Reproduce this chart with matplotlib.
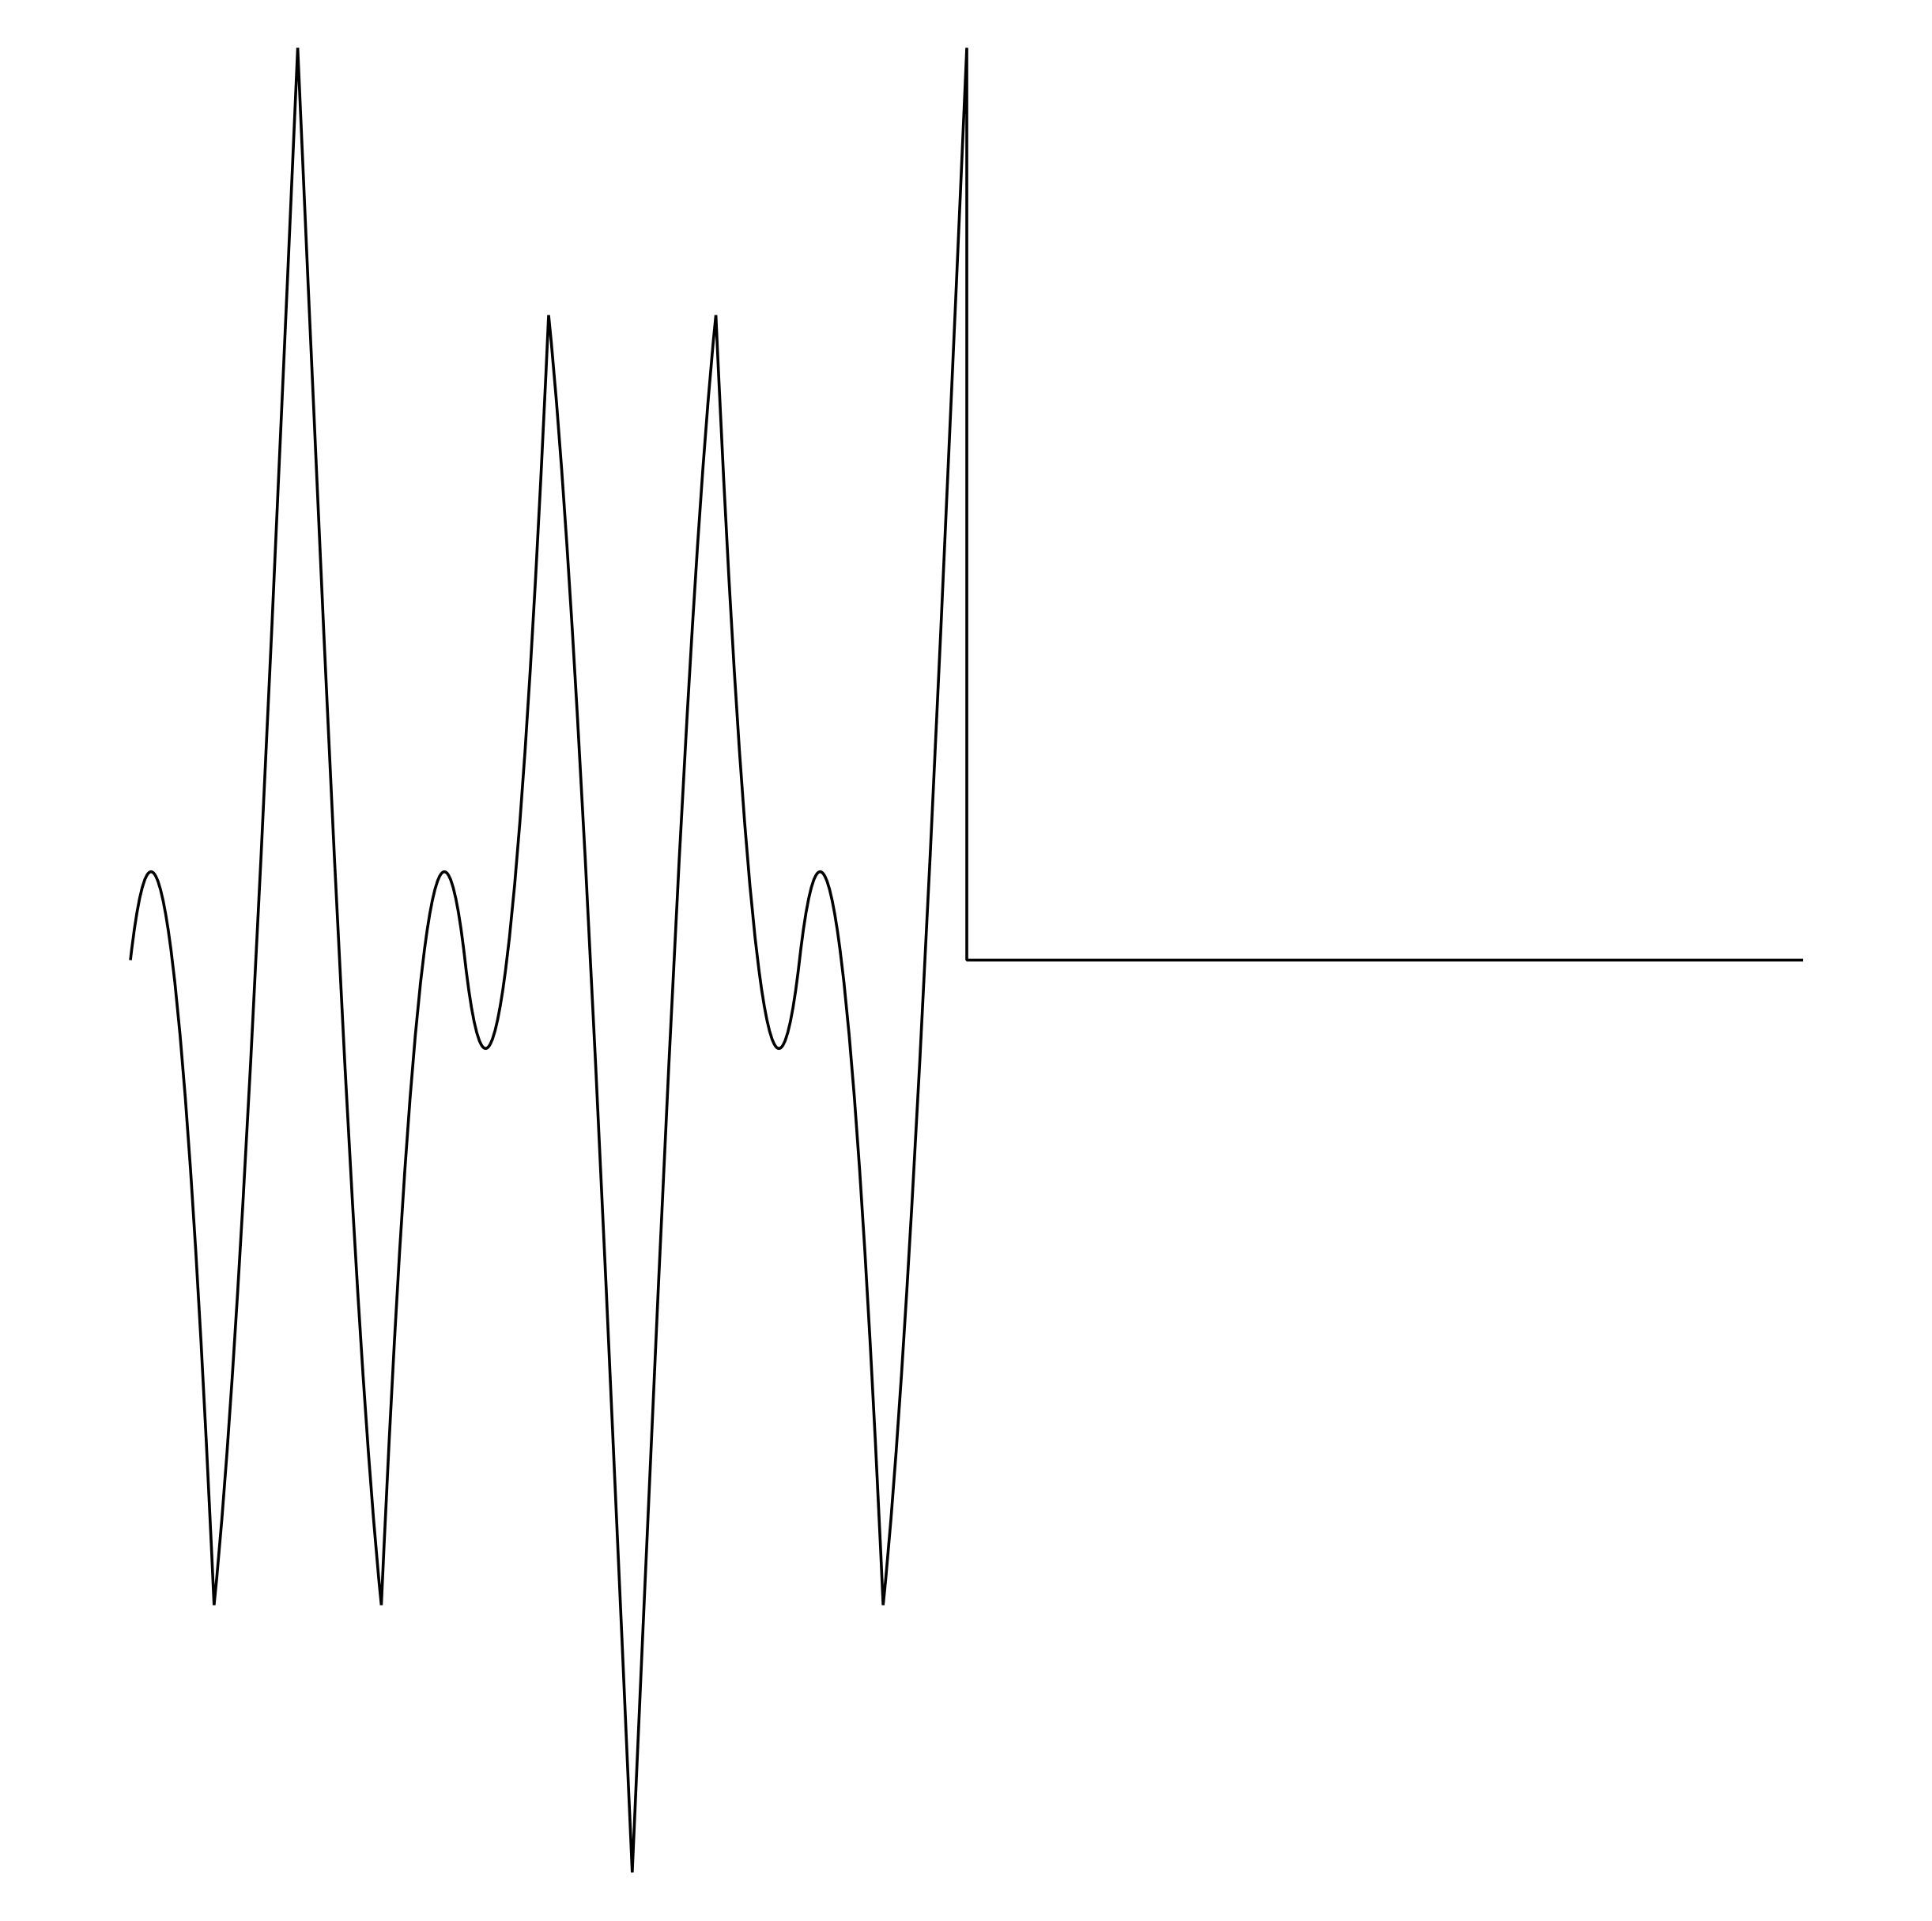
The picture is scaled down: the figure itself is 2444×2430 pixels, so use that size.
import matplotlib
matplotlib.use("Agg")
import matplotlib.pyplot as plt
from matplotlib.path import Path
from matplotlib.patches import PathPatch

# samples of the sequence
n = [0, 1, 2, 3, 4, 5, 6, 7, 8, 9, 10]
values = [0, -0.707, 1, -0.707, 0, 0.707, -1, 0.707, 0, -0.707, 1]

# zero padding after the last sample
pad_n = [10, 11, 12, 13, 14, 15, 16, 17, 18, 19, 20]
pad_values = [0, 0, 0, 0, 0, 0, 0, 0, 0, 0, 0]

# shape of the curve drawn between two samples
bend = 0.128


def curve_path(xs, ys, tail_x, tail_y):
    verts = [(xs[0], ys[0])]
    codes = [Path.MOVETO]
    for i in range(len(xs) - 1):
        x0, x1 = xs[i], xs[i + 1]
        y0, y1 = ys[i], ys[i + 1]
        d0 = y0 * (bend - 3) - y1 * (1 + bend)
        d1 = y0 * (1 + bend) - y1 * (bend - 3)
        dx = x1 - x0
        verts += [(x0 + dx / 3, y0 + d0 / 3), (x1 - dx / 3, y1 - d1 / 3), (x1, y1)]
        codes += [Path.CURVE4] * 3
    for x, y in zip(tail_x, tail_y):
        verts.append((x, y))
        codes.append(Path.LINETO)
    return Path(verts, codes)


fig = plt.figure(figsize=(24.44, 24.30), dpi=100)
ax = fig.add_axes([165 / 2444, 61.5 / 2430, 2116 / 2444, 2308 / 2430])

path = curve_path(n, values, pad_n, pad_values)
ax.add_patch(PathPatch(path, fill=False, edgecolor="black", linewidth=2.6,
                       joinstyle="bevel", capstyle="butt", clip_on=False))

ax.set_xlim(0, 20)
ax.set_ylim(-1, 1)
ax.axis("off")

fig.savefig("out.png", dpi=100, facecolor="white")
